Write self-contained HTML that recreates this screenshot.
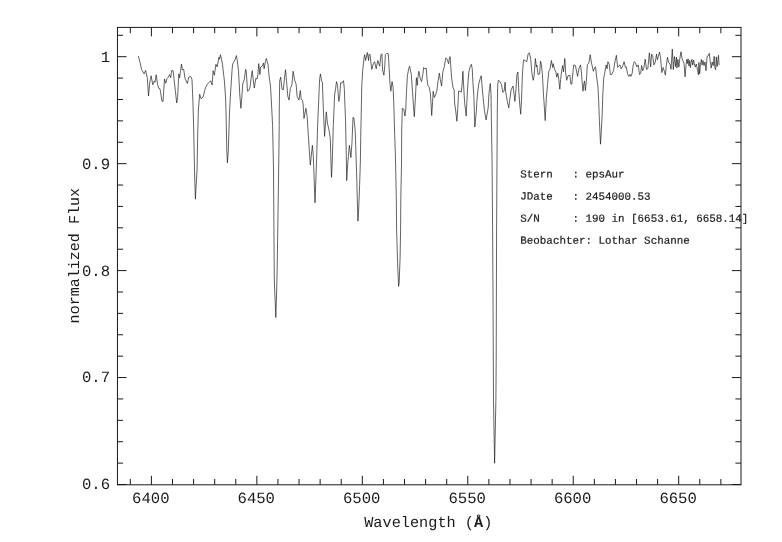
<!DOCTYPE html>
<html><head><meta charset="utf-8"><title>Spectrum</title>
<style>
html,body{margin:0;padding:0;background:#fff;}
body{width:782px;height:542px;overflow:hidden;font-family:"Liberation Mono",monospace;}
svg{display:block;position:absolute;left:0;top:0;}
text{font-family:"Liberation Mono",monospace;fill:#1a1a1a;text-rendering:geometricPrecision;}
.b{font-size:15.25px;}
.s{font-size:10.87px;stroke:#1a1a1a;stroke-width:0.2px;}
.t{font-size:15.6px;}
.y{font-size:15.05px;}
</style></head><body>
<svg width="782" height="542" viewBox="0 0 782 542">
<rect x="0" y="0" width="782" height="542" fill="#fff"/>
<rect x="117.45" y="27.4" width="623.55" height="457.40" fill="none" stroke="#1a1a1a" stroke-width="1.0"/>
<path d="M130.31 27.4 v5.8 M130.31 484.8 v-5.8 M151.40 27.4 v9.0 M151.40 484.8 v-9.0 M172.49 27.4 v5.8 M172.49 484.8 v-5.8 M193.58 27.4 v5.8 M193.58 484.8 v-5.8 M214.68 27.4 v5.8 M214.68 484.8 v-5.8 M235.77 27.4 v5.8 M235.77 484.8 v-5.8 M256.86 27.4 v9.0 M256.86 484.8 v-9.0 M277.95 27.4 v5.8 M277.95 484.8 v-5.8 M299.04 27.4 v5.8 M299.04 484.8 v-5.8 M320.14 27.4 v5.8 M320.14 484.8 v-5.8 M341.23 27.4 v5.8 M341.23 484.8 v-5.8 M362.32 27.4 v9.0 M362.32 484.8 v-9.0 M383.41 27.4 v5.8 M383.41 484.8 v-5.8 M404.50 27.4 v5.8 M404.50 484.8 v-5.8 M425.60 27.4 v5.8 M425.60 484.8 v-5.8 M446.69 27.4 v5.8 M446.69 484.8 v-5.8 M467.78 27.4 v9.0 M467.78 484.8 v-9.0 M488.87 27.4 v5.8 M488.87 484.8 v-5.8 M509.96 27.4 v5.8 M509.96 484.8 v-5.8 M531.06 27.4 v5.8 M531.06 484.8 v-5.8 M552.15 27.4 v5.8 M552.15 484.8 v-5.8 M573.24 27.4 v9.0 M573.24 484.8 v-9.0 M594.33 27.4 v5.8 M594.33 484.8 v-5.8 M615.42 27.4 v5.8 M615.42 484.8 v-5.8 M636.52 27.4 v5.8 M636.52 484.8 v-5.8 M657.61 27.4 v5.8 M657.61 484.8 v-5.8 M678.70 27.4 v9.0 M678.70 484.8 v-9.0 M699.79 27.4 v5.8 M699.79 484.8 v-5.8 M720.88 27.4 v5.8 M720.88 484.8 v-5.8 M117.45 484.50 h9.1 M741.0 484.50 h-9.1 M117.45 463.11 h5.6 M741.0 463.11 h-5.6 M117.45 441.72 h5.6 M741.0 441.72 h-5.6 M117.45 420.33 h5.6 M741.0 420.33 h-5.6 M117.45 398.94 h5.6 M741.0 398.94 h-5.6 M117.45 377.55 h9.1 M741.0 377.55 h-9.1 M117.45 356.16 h5.6 M741.0 356.16 h-5.6 M117.45 334.77 h5.6 M741.0 334.77 h-5.6 M117.45 313.38 h5.6 M741.0 313.38 h-5.6 M117.45 291.99 h5.6 M741.0 291.99 h-5.6 M117.45 270.60 h9.1 M741.0 270.60 h-9.1 M117.45 249.21 h5.6 M741.0 249.21 h-5.6 M117.45 227.82 h5.6 M741.0 227.82 h-5.6 M117.45 206.43 h5.6 M741.0 206.43 h-5.6 M117.45 185.04 h5.6 M741.0 185.04 h-5.6 M117.45 163.65 h9.1 M741.0 163.65 h-9.1 M117.45 142.26 h5.6 M741.0 142.26 h-5.6 M117.45 120.87 h5.6 M741.0 120.87 h-5.6 M117.45 99.48 h5.6 M741.0 99.48 h-5.6 M117.45 78.09 h5.6 M741.0 78.09 h-5.6 M117.45 56.70 h9.1 M741.0 56.70 h-9.1 M117.45 35.31 h5.6 M741.0 35.31 h-5.6" fill="none" stroke="#1a1a1a" stroke-width="1.0"/>
<polyline points="138.3,56.0 140.2,63 141.5,69.4 144.1,73.9 145.6,70.4 147.3,77.7 148.5,96.0 149.8,82.2 151.1,75.8 152.8,84.8 154.3,80.9 155,82.2 156.2,74.8 157.5,84.1 158.8,88.3 160,88.8 162,101.4 163,101.4 164.5,79 165.8,83.2 167.1,78.4 168.4,77.1 169.6,74.5 170.7,77.7 171.6,70.7 173.1,70.7 174.1,79.6 175.4,91.2 176.7,102.9 177.6,97.5 178.8,73.9 179.6,77.7 180.5,71.3 181.5,64 182.4,70 183.7,69.4 185,78.4 187.3,83.5 188.8,77.1 190.7,76.4 192,79.6 192.9,101.4 193.6,125 194.5,169 194.8,180.7 195.4,199.2 196,188 197.1,169 197.6,138.4 198.4,109 199.7,94.3 201,98.8 203.1,96.9 205.4,88 207.4,84.1 210.6,80.7 212.1,85 213.1,70.7 214.4,75.2 215.9,64.3 217.2,66.9 218.9,57.3 219.5,59.2 220.5,54.7 222.3,63 224.4,80.9 225.6,98 226.1,115 226.8,151 227.4,162.9 228.3,151 229.5,112 230.5,94 232.1,69.4 232.8,63.7 234.1,61.7 235.4,59 236.4,55.6 237.3,60.5 238.5,70.7 239.8,95 240.9,108.3 241.7,98.8 242.8,83.5 244.3,79.6 245.6,69.4 246.3,71.5 247.5,91.2 248.8,90.5 250,87.3 251.1,78.4 252.2,70.7 253.5,82 254.3,88 255.8,78.4 257.1,79 257.9,74.5 258.7,63.7 259.9,74.5 260.7,66.9 262.2,66.2 263.5,63 264.1,68.8 265.4,61.7 266.3,58.5 268,64.3 269.2,77.1 270.5,86 271.3,100 272.6,125.6 273.5,169 273.9,225 274.3,280 275.8,317.5 276.6,294 277.1,272 277.8,227 278.8,160 279.2,125.6 279.3,105 279.7,81 280.7,77.1 282,89.2 283.3,89.9 284.6,77.1 285.5,69.7 286.5,80.9 287.8,96.3 289.1,100.1 290.3,88.6 291.9,84.8 293.1,71.3 294.8,80.9 296.1,84.1 297.1,96.3 299,100.1 300.3,90.5 301.2,98.8 302.5,100.7 303.1,103.8 304,118.5 305.9,108.3 307.2,116.6 308.2,133.2 309.2,148.6 310.3,165 312.4,145.4 313.3,156 315,202.8 316.6,160 317.6,125.6 318.5,105 319.2,88.6 319.7,78.4 320.5,73.9 321.5,80.9 322.4,82.2 323,100 323.8,119 324.6,136.4 326.3,111.8 327.4,123 329,130 330.3,138.4 331,164 331.5,177.3 332.3,161 333.3,125.6 334.2,105 334.6,95 335.6,88.6 336.5,81.6 337.5,85.4 338.8,101.4 339.7,96.3 340.7,82.8 342.2,82.8 343.5,80.7 344.3,88.6 344.8,102 345.5,119.2 346.2,151 346.7,180.5 347.6,165 348.4,156.3 349.4,145.4 350.9,157.5 352,142.2 353,117.3 353.9,117.9 355.2,130.7 356,155 356.8,180 357.3,200 357.9,221.1 358.6,211 359.6,185.6 360.4,160 360.7,138.4 361.4,105 361.8,84.8 362.7,70.7 364,57.9 364.7,54.7 365.6,60.5 367.3,52.5 368.6,60.5 369.1,54.1 370.1,54.7 370.7,61.1 371.8,69.4 373.3,63.7 374.6,61.7 376.2,68.8 377.8,60.5 379.7,66.2 381,54.7 381.9,53.8 382.6,70 383.9,75.2 384.8,65.6 385.4,54.7 386.7,53.4 388.3,53.8 389,65.6 389.9,82.2 390.8,91.2 392.1,81.6 393.1,87.3 393.8,104 394.4,125.6 395.4,155 396.3,198.4 396.6,229 397.6,263.4 398.6,286.4 399.2,282.5 400.1,257 400.6,229 400.8,198.4 401.5,164 401.7,130 402.3,108.4 403.8,109.1 404.9,116.1 405.8,109 406.4,93 407.4,75.8 408.7,68.8 409.6,66.2 411.3,74.5 412.5,91.2 413.4,105 414.3,116.7 415.3,100.1 416.4,77.7 417.3,85.4 417.9,77.1 418.9,71.3 420.2,78.4 421.5,81.6 422.8,74.5 423.7,67.5 424.9,68.8 426.2,68.1 427.1,79.6 427.9,85.4 429.2,87.3 430.4,93.7 431.2,106.5 431.7,115.5 432.6,101.4 433.2,91.2 434.3,97.5 435.5,95 436.8,91.2 438.1,80.9 439.4,73.2 440.3,79.6 441.6,86 442.8,72 444.1,67.5 445.8,57.9 447.1,59.2 448.6,63.7 449.2,59.2 450.1,56.6 450.8,66.9 451.8,79.6 453.1,88 454.1,89.2 454.7,103.9 455.6,110 456.9,121.2 457.8,107.8 458.6,91.2 460.1,91.2 461.1,92.4 462,86 462.9,71.3 463.6,84.8 464.6,102.7 465.5,110 466.2,116.1 466.9,101.4 467.8,84.8 468.8,72 470.1,66.9 471.4,64.3 472.3,69.4 472.9,82.2 473.9,96.3 474.8,127 476.3,111.6 476.9,101.4 477.4,95 478.6,84.8 479.9,79.6 481.2,75.8 482.1,86 483.1,97.5 484.4,110.3 486.1,119.9 488.2,107.8 488.8,96 489.5,88.6 490.3,83.5 491,93.7 491.4,120.6 492.1,164 492.6,229 493,294 493.3,359 493.5,400 494.6,463.3 495.9,400 496.2,359 496.4,294 496.6,229 497.0,160 497.3,109 497.7,84.8 498.3,80.3 500,81.6 501.5,84.8 502.8,92.4 504.1,91.2 505.1,82.2 505.6,91.2 507.3,101.4 508.8,107.8 509.4,102.7 511.1,89.9 513,86 514,93.7 514.9,101.4 516,88.6 516.9,74.5 517.9,72 518.8,91.2 519.7,103.9 520.7,114.2 521.5,100 522.4,74.5 523.5,59.8 525.2,60.5 526.8,61.7 528.1,54.1 529.4,52.8 530.7,59.2 531.9,73.2 533.2,80.3 534.1,75.8 535.4,58.5 536.3,66.9 536.9,64.9 538,74.5 539.6,73.9 540.5,61.1 541.4,64.3 542.4,74.5 543.4,93 544.4,108 545.2,120.6 546.3,98.8 547.5,84.8 548.8,71.3 550.1,68.8 551.4,60.5 552.7,67.5 553.3,63.7 554.6,69.4 555.9,72 556.8,77.1 557.8,73.2 558.8,79.6 559.8,89.2 560.6,79.6 561.6,71.3 562.6,65.6 563.5,72 564.8,58.5 565.7,73.2 566.7,80.3 568,75.8 569.9,75.2 570.9,84.1 571.8,84.1 573.1,70.7 573.8,64.9 575.4,65.6 576.7,72 577.6,76.4 578.9,68.8 580.5,64.9 581.4,72 582,80.9 583,91.2 583.9,83.5 584.5,80.9 585.4,90.5 586.3,81.5 587.4,64.5 588.9,63 590.2,54.7 591.5,63 593.4,71.3 594.7,67.5 595.6,66.9 596.6,77.1 597.9,86 598.7,101.4 599.4,120.6 600.5,144.2 601.2,133.4 602.2,114.2 602.8,95 603.7,78.4 604.9,72 606.2,64.9 607.1,68.8 607.9,61.7 609.2,64.3 610.4,74.5 611.7,74.5 613.5,70.7 615.2,60.5 616.4,55.3 617.7,67.5 619,65.6 619.9,64.9 621.2,68.8 622.8,65.6 624.1,61.7 625.4,67.5 626.3,66.9 627.6,73.9 628.8,76.4 630.1,74.5 630.9,76.4 632.2,73.2 633.1,65.6 634.3,61.7 635.6,63 636.9,66.9 638.2,64.9 639.5,74.5 640.7,73.2 641.6,65.6 642.7,70.7 643.9,67.5 645.2,59.2 646.5,69.4 647.8,68.8 649.4,52.8 650.6,66.9 651.6,54.1 652.6,55.3 653.9,64.9 655.2,62.4 656.5,54.1 657.4,59.8 658.3,56.6 659.5,52.1 660.6,57.9 661.8,72.6 663.1,67.5 664.4,71.3 665.4,75.2 666.3,65.6 667.5,57.3 668.6,62.5 670,64 671,69.3 672.3,49.1 673.3,69.5 674.4,56.5 675.5,66.5 676.4,57.1 676.9,68.1 677.9,59.4 678.9,67.1 679.6,60 681,51.8 682,58.4 683,61 684,63.5 685.1,76.8 686.1,64.6 686.8,59.4 687.4,63.5 688.1,58.9 689,66.1 689.7,60.5 690.4,67.6 691.2,62 691.9,59.4 692.7,65.1 693.6,60 694.3,64 695.3,67.1 696.3,64 697,67.6 697.6,70.7 698.4,74.8 698.9,62.5 699.7,73.8 700.4,64.6 701.4,59.4 702.1,65.1 703,60.5 704,65.6 705,62 706,70.7 707.1,56.4 708.1,55.9 709.3,53.3 710.1,60.5 711.2,68.1 712.2,62 713.2,65.6 714.2,56.4 714.7,66.6 715.6,69.7 716.3,56.9 717.1,66.6 717.8,60.5 718.5,55.3 719.1,65.1" fill="none" stroke="#1a1a1a" stroke-width="0.68" stroke-linejoin="miter" stroke-miterlimit="3"/>
<g style="filter:grayscale(1)">
<text x="150.80" y="503.3" text-anchor="middle" class="t">6400</text>
<text x="256.26" y="503.3" text-anchor="middle" class="t">6450</text>
<text x="361.72" y="503.3" text-anchor="middle" class="t">6500</text>
<text x="467.18" y="503.3" text-anchor="middle" class="t">6550</text>
<text x="572.64" y="503.3" text-anchor="middle" class="t">6600</text>
<text x="678.10" y="503.3" text-anchor="middle" class="t">6650</text>
<text x="110.1" y="61.60" text-anchor="end" class="t">1</text>
<text x="110.1" y="168.55" text-anchor="end" class="t">0.9</text>
<text x="110.1" y="275.50" text-anchor="end" class="t">0.8</text>
<text x="110.1" y="382.45" text-anchor="end" class="t">0.7</text>
<text x="110.1" y="489.40" text-anchor="end" class="t">0.6</text>
<text x="364.2" y="526.7" class="b" xml:space="preserve">Wavelength (<tspan font-weight="bold">Å</tspan>)</text>
<text transform="translate(79.3,323.4) rotate(-90)" class="y" xml:space="preserve">normalized Flux</text>
<text transform="translate(520.3,177.55) rotate(0.03)" class="s" xml:space="preserve">Stern   : epsAur</text>
<text transform="translate(520.3,199.62) rotate(0.03)" class="s" xml:space="preserve">JDate   : 2454000.53</text>
<text transform="translate(520.3,221.69) rotate(0.03)" class="s" xml:space="preserve">S/N     : 190 in [6653.61, 6658.14]</text>
<text transform="translate(520.3,243.76) rotate(0.03)" class="s" xml:space="preserve">Beobachter: Lothar Schanne</text>
</g>
</svg>
</body></html>
